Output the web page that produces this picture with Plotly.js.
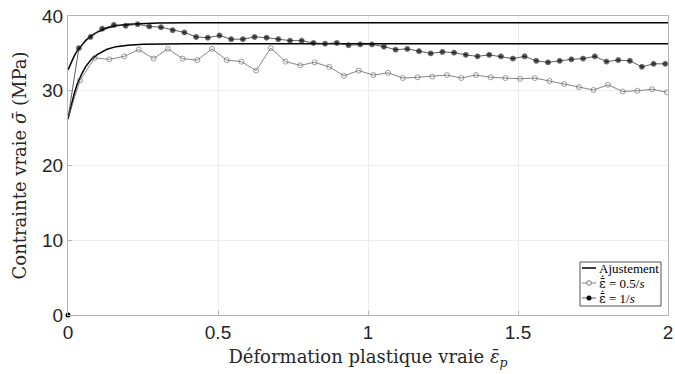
<!DOCTYPE html>
<html>
<head>
<meta charset="utf-8">
<script src="https://cdn.plot.ly/plotly-3.0.1.min.js"></script>
<style>html,body{margin:0;padding:0;background:#fff;}#chart{width:675px;height:374px;}</style>
</head>
<body>
<div id="chart"></div>
<script>
// Fitted curves
const fitHighX = [0, 0.01, 0.02, 0.03, 0.045, 0.06, 0.08, 0.1, 0.13, 0.16, 0.2, 0.25, 0.3, 0.4, 0.6, 2];
const fitHighY = [32.8, 33.8, 34.6, 35.3, 36.1, 36.8, 37.4, 37.9, 38.4, 38.7, 38.9, 39.0, 39.05, 39.1, 39.1, 39.1];
const fitLowX = [0, 0.01, 0.02, 0.03, 0.045, 0.06, 0.08, 0.1, 0.13, 0.16, 0.2, 0.25, 0.3, 0.4, 2];
const fitLowY = [26.2, 28.0, 29.5, 30.8, 32.2, 33.3, 34.3, 34.9, 35.55, 35.9, 36.1, 36.23, 36.28, 36.3, 36.3];

// Strain rate 0.5/s (open markers)
const openX = [0, 0.04, 0.089, 0.138, 0.187, 0.236, 0.285, 0.333, 0.382, 0.431, 0.48, 0.529, 0.578, 0.627, 0.676, 0.725,
  0.774, 0.822, 0.871, 0.92, 0.969, 1.018, 1.067, 1.116, 1.165, 1.214, 1.263, 1.311, 1.36, 1.409, 1.458,
  1.507, 1.556, 1.605, 1.654, 1.703, 1.752, 1.8, 1.849, 1.898, 1.947, 1.996];
const openY = [26.3, 31.4, 34.4, 34.2, 34.6, 35.5, 34.3, 35.6, 34.3, 34.1, 35.6, 34.1, 33.9, 32.7, 35.7, 33.9,
  33.4, 33.8, 33.2, 32.0, 32.7, 32.1, 32.4, 31.7, 31.8, 31.9, 32.1, 31.7, 32.1, 31.8, 31.7,
  31.6, 31.7, 31.3, 30.9, 30.5, 30.1, 30.8, 29.9, 30.0, 30.2, 29.8];

// Strain rate 1/s (filled markers)
const fillX = [0, 0.036, 0.075, 0.114, 0.153, 0.192, 0.232, 0.271, 0.31, 0.349, 0.388, 0.427, 0.466, 0.505, 0.544, 0.583,
  0.622, 0.662, 0.701, 0.74, 0.779, 0.818, 0.857, 0.896, 0.935, 0.974, 1.013, 1.053, 1.092, 1.131, 1.17,
  1.209, 1.248, 1.287, 1.326, 1.365, 1.404, 1.443, 1.483, 1.522, 1.561, 1.6, 1.639, 1.678, 1.717, 1.756,
  1.795, 1.834, 1.873, 1.913, 1.952, 1.991];
const fillY = [26.3, 35.7, 37.2, 38.3, 38.8, 38.7, 38.9, 38.6, 38.5, 38.1, 37.8, 37.2, 37.1, 37.4, 36.9, 36.9,
  37.2, 37.1, 36.9, 36.7, 36.7, 36.4, 36.3, 36.4, 36.1, 36.2, 36.2, 35.9, 35.5, 35.6, 35.3,
  35.0, 35.2, 35.1, 34.8, 34.6, 34.8, 34.6, 34.3, 34.6, 34.0, 33.8, 34.0, 34.2, 34.3, 34.6,
  33.9, 34.1, 34.0, 33.2, 33.6, 33.6];

const originX = [0];
const originY = [0];

const xTicks = [0, 0.5, 1, 1.5, 2];
const xTickText = ['0', '0.5', '1', '1.5', '2'];
const yTicks = [0, 10, 20, 30, 40];

const legendLabels = ['Ajustement', '<i>ε̄̇</i> = 0.5/<i>s</i>', '<i>ε̄̇</i> = 1/<i>s</i>'];

const openSizes = openX.map((v, i) => i === 0 ? 0 : 5);
const fillSizes = fillX.map((v, i) => i === 0 ? 0 : 5);

const serif = 'DejaVu Serif, serif';
const sans = 'Liberation Sans, Arial, sans-serif';

const traces = [
  {x: fitHighX, y: fitHighY, mode: 'lines', showlegend: false, line: {color: '#000', width: 1.5}},
  {x: fitLowX, y: fitLowY, mode: 'lines', showlegend: false, line: {color: '#000', width: 1.5}},
  {x: openX, y: openY, mode: 'lines+markers', showlegend: false,
   line: {color: '#666', width: 0.8},
   marker: {symbol: 'circle-open', size: openSizes, color: '#666', line: {width: 0.9, color: '#666'}}},
  {x: fillX, y: fillY, mode: 'lines+markers', showlegend: false,
   line: {color: '#333', width: 0.8},
   marker: {symbol: 'circle', size: fillSizes, color: '#000'}},
  {x: originX, y: originY, mode: 'markers', showlegend: false, cliponaxis: false,
   marker: {symbol: 'circle', size: 5, color: '#000'}}
];

// custom compact legend (box, samples and labels), placed in paper coordinates
const L = 68, T = 16, W = 600, H = 299;
const px = v => (v - L) / W;
const py = v => (T + H - v) / H;
const rowY = [268, 283, 298];
const shapes = [
  {type: 'rect', xref: 'paper', yref: 'paper', x0: px(580), x1: px(661), y0: py(262), y1: py(306),
   line: {color: '#262626', width: 0.8}, fillcolor: '#fff', layer: 'above'},
  {type: 'line', xref: 'paper', yref: 'paper', x0: px(582), x1: px(596), y0: py(rowY[0]), y1: py(rowY[0]),
   line: {color: '#000', width: 1.5}, layer: 'above'},
  {type: 'line', xref: 'paper', yref: 'paper', x0: px(582), x1: px(596), y0: py(rowY[1]), y1: py(rowY[1]),
   line: {color: '#666', width: 0.8}, layer: 'above'},
  {type: 'circle', xref: 'paper', yref: 'paper', xsizemode: 'pixel', ysizemode: 'pixel',
   xanchor: px(589), yanchor: py(rowY[1]), x0: -2.3, x1: 2.3, y0: -2.3, y1: 2.3,
   line: {color: '#666', width: 0.9}, fillcolor: '#fff', layer: 'above'},
  {type: 'line', xref: 'paper', yref: 'paper', x0: px(582), x1: px(596), y0: py(rowY[2]), y1: py(rowY[2]),
   line: {color: '#333', width: 0.8}, layer: 'above'},
  {type: 'circle', xref: 'paper', yref: 'paper', xsizemode: 'pixel', ysizemode: 'pixel',
   xanchor: px(589), yanchor: py(rowY[2]), x0: -2.5, x1: 2.5, y0: -2.5, y1: 2.5,
   line: {color: '#000', width: 0}, fillcolor: '#000', layer: 'above'}
];
const annotations = legendLabels.map((t, i) => ({
  xref: 'paper', yref: 'paper', x: px(597), y: py(rowY[i]), xanchor: 'left', yanchor: 'middle',
  text: t, showarrow: false, font: {family: 'Liberation Serif, serif', size: 13, color: '#000'}
}));
annotations[1].text = '<span style="font-family:DejaVu Serif">ε̄̇</span> = 0.5/<i>s</i>';
annotations[2].text = '<span style="font-family:DejaVu Serif">ε̄̇</span> = 1/<i>s</i>';

const layout = {
  width: 675, height: 374,
  margin: {l: 68, r: 7, t: 16, b: 59},
  paper_bgcolor: '#fff', plot_bgcolor: '#fff',
  showlegend: false,
  shapes: shapes,
  annotations: annotations,
  xaxis: {
    range: [0, 2], tickvals: xTicks, ticktext: xTickText,
    showgrid: true, gridcolor: '#ececec', gridwidth: 1,
    showline: true, linecolor: '#b4b4b4', linewidth: 1, mirror: true,
    ticks: 'inside', ticklen: 4, tickcolor: '#b4b4b4',
    zeroline: false,
    tickfont: {family: sans, size: 19, color: '#262626'},
    title: {text: 'Déformation plastique vraie <i>ε̄</i><sub><i>p</i></sub>', font: {family: serif, size: 18, color: '#262626'}, standoff: 8}
  },
  yaxis: {
    range: [0, 40], tickvals: yTicks,
    showgrid: true, gridcolor: '#ececec', gridwidth: 1,
    showline: true, linecolor: '#b4b4b4', linewidth: 1, mirror: true,
    ticks: 'inside', ticklen: 4, tickcolor: '#b4b4b4',
    zeroline: false,
    tickfont: {family: sans, size: 19, color: '#262626'},
    title: {text: 'Contrainte vraie <i>σ̄</i> (MPa)', font: {family: serif, size: 18, color: '#262626'}, standoff: 10}
  }
};

Plotly.newPlot('chart', traces, layout, {displayModeBar: false, staticPlot: true});
</script>
</body>
</html>
